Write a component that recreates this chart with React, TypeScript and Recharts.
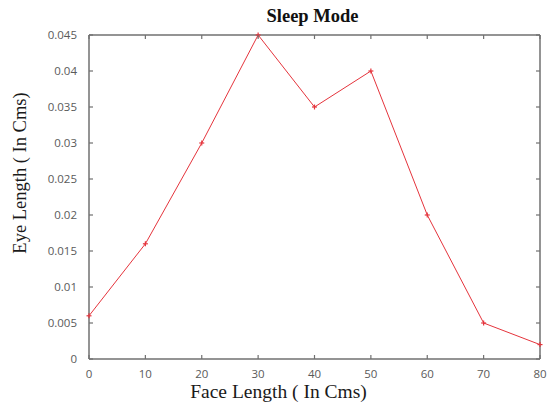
import React from 'react';
import { LineChart, Line, XAxis, YAxis } from 'recharts';

const faceLength = [0, 10, 20, 30, 40, 50, 60, 70, 80];
const eyeLength = [0.006, 0.016, 0.03, 0.045, 0.035, 0.04, 0.02, 0.005, 0.002];
const xTicks = [0, 10, 20, 30, 40, 50, 60, 70, 80];
const yTicks = [0, 0.005, 0.01, 0.015, 0.02, 0.025, 0.03, 0.035, 0.04, 0.045];

const data = faceLength.map((x, i) => ({ x, y: eyeLength[i] }));

const AXIS = '#707070';
const LINE = '#e5343c';
const TICK_FONT = '"Open Sans", "DejaVu Sans", sans-serif';
const SERIF = '"Liberation Serif", "DejaVu Serif", serif';

// Inward tick marks on every side of the frame; labels only on bottom and left.
const BottomTick = (p: any) => (
  <g>
    <line x1={p.x} y1={p.y} x2={p.x} y2={p.y - 4} stroke={AXIS} strokeWidth={1.2} />
    <text x={p.x} y={p.y + 19} textAnchor="middle" fill="#5a5a5a" fontSize={11.5} fontFamily={TICK_FONT}>
      {p.payload.value}
    </text>
  </g>
);

const TopTick = (p: any) => (
  <line x1={p.x} y1={p.y} x2={p.x} y2={p.y + 4} stroke={AXIS} strokeWidth={1.2} />
);

const LeftTick = (p: any) => (
  <g>
    <line x1={p.x} y1={p.y} x2={p.x + 4} y2={p.y} stroke={AXIS} strokeWidth={1.2} />
    <text x={p.x - 12} y={p.y + 4} textAnchor="end" fill="#5a5a5a" fontSize={11.5} fontFamily={TICK_FONT}>
      {String(p.payload.value)}
    </text>
  </g>
);

const RightTick = (p: any) => (
  <line x1={p.x} y1={p.y} x2={p.x - 4} y2={p.y} stroke={AXIS} strokeWidth={1.2} />
);

const PlusDot = (p: any) => {
  if (p.cx == null || p.cy == null) return null;
  return (
    <g key={`d${p.index}`}>
      <line x1={p.cx - 2.5} y1={p.cy} x2={p.cx + 2.5} y2={p.cy} stroke={LINE} strokeWidth={1.2} />
      <line x1={p.cx} y1={p.cy - 2.5} x2={p.cx} y2={p.cy + 2.5} stroke={LINE} strokeWidth={1.2} />
    </g>
  );
};

const XTitle = (p: any) => {
  const vb = p.viewBox;
  return (
    <text x={vb.x + vb.width / 2 - 36} y={vb.y + 39} textAnchor="middle" fontSize={19.5} fill="#1a1a1a" fontFamily={SERIF}>
      Face Length ( In Cms)
    </text>
  );
};

const YTitle = (p: any) => {
  const vb = p.viewBox;
  const cx = 20;
  const cy = vb.y + vb.height / 2 - 24;
  return (
    <text x={cx} y={cy} transform={`rotate(-90 ${cx} ${cy})`} textAnchor="middle" dominantBaseline="central" fontSize={18.5} fill="#1a1a1a" fontFamily={SERIF}>
      Eye Length ( In Cms)
    </text>
  );
};

const Title = (p: any) => {
  const vb = p.viewBox;
  return (
    <text x={vb.x + vb.width / 2 - 2} y={vb.y - 12} textAnchor="middle" fontSize={18.5} fontWeight="bold" fill="#111" fontFamily={SERIF}>
      Sleep Mode
    </text>
  );
};

export default function App() {
  return (
    <div style={{ position: 'absolute', left: 0, top: 0, width: 549, height: 409, background: '#fff' }}>
      <LineChart width={549} height={409} data={data} margin={{ top: 34, right: 8, bottom: 20, left: 29 }}>
        <XAxis
          xAxisId="b"
          dataKey="x"
          type="number"
          domain={[0, 80]}
          ticks={xTicks}
          orientation="bottom"
          height={30}
          stroke={AXIS}
          strokeWidth={1.5}
          tickLine={false}
          tickSize={0}
          tickMargin={0}
          tick={<BottomTick />}
          label={<XTitle />}
        />
        <XAxis
          xAxisId="t"
          dataKey="x"
          type="number"
          domain={[0, 80]}
          ticks={xTicks}
          orientation="top"
          height={1}
          stroke={AXIS}
          strokeWidth={1.5}
          tickLine={false}
          tickSize={0}
          tickMargin={0}
          tick={<TopTick />}
          label={<Title />}
        />
        <YAxis
          yAxisId="l"
          type="number"
          domain={[0, 0.045]}
          ticks={yTicks}
          orientation="left"
          width={60}
          stroke={AXIS}
          strokeWidth={1.5}
          tickLine={false}
          tickSize={0}
          tickMargin={0}
          tick={<LeftTick />}
          label={<YTitle />}
        />
        <YAxis
          yAxisId="r"
          type="number"
          domain={[0, 0.045]}
          ticks={yTicks}
          orientation="right"
          width={1}
          stroke={AXIS}
          strokeWidth={1.5}
          tickLine={false}
          tickSize={0}
          tickMargin={0}
          tick={<RightTick />}
        />
        {/* invisible series bound to the top/right axes so the frame sides render */}
        <Line
          xAxisId="t"
          yAxisId="r"
          dataKey="y"
          stroke="none"
          dot={false}
          activeDot={false}
          legendType="none"
          isAnimationActive={false}
        />
        <Line
          xAxisId="b"
          yAxisId="l"
          dataKey="y"
          stroke={LINE}
          strokeWidth={1}
          dot={<PlusDot />}
          activeDot={false}
          isAnimationActive={false}
        />
      </LineChart>
    </div>
  );
}
